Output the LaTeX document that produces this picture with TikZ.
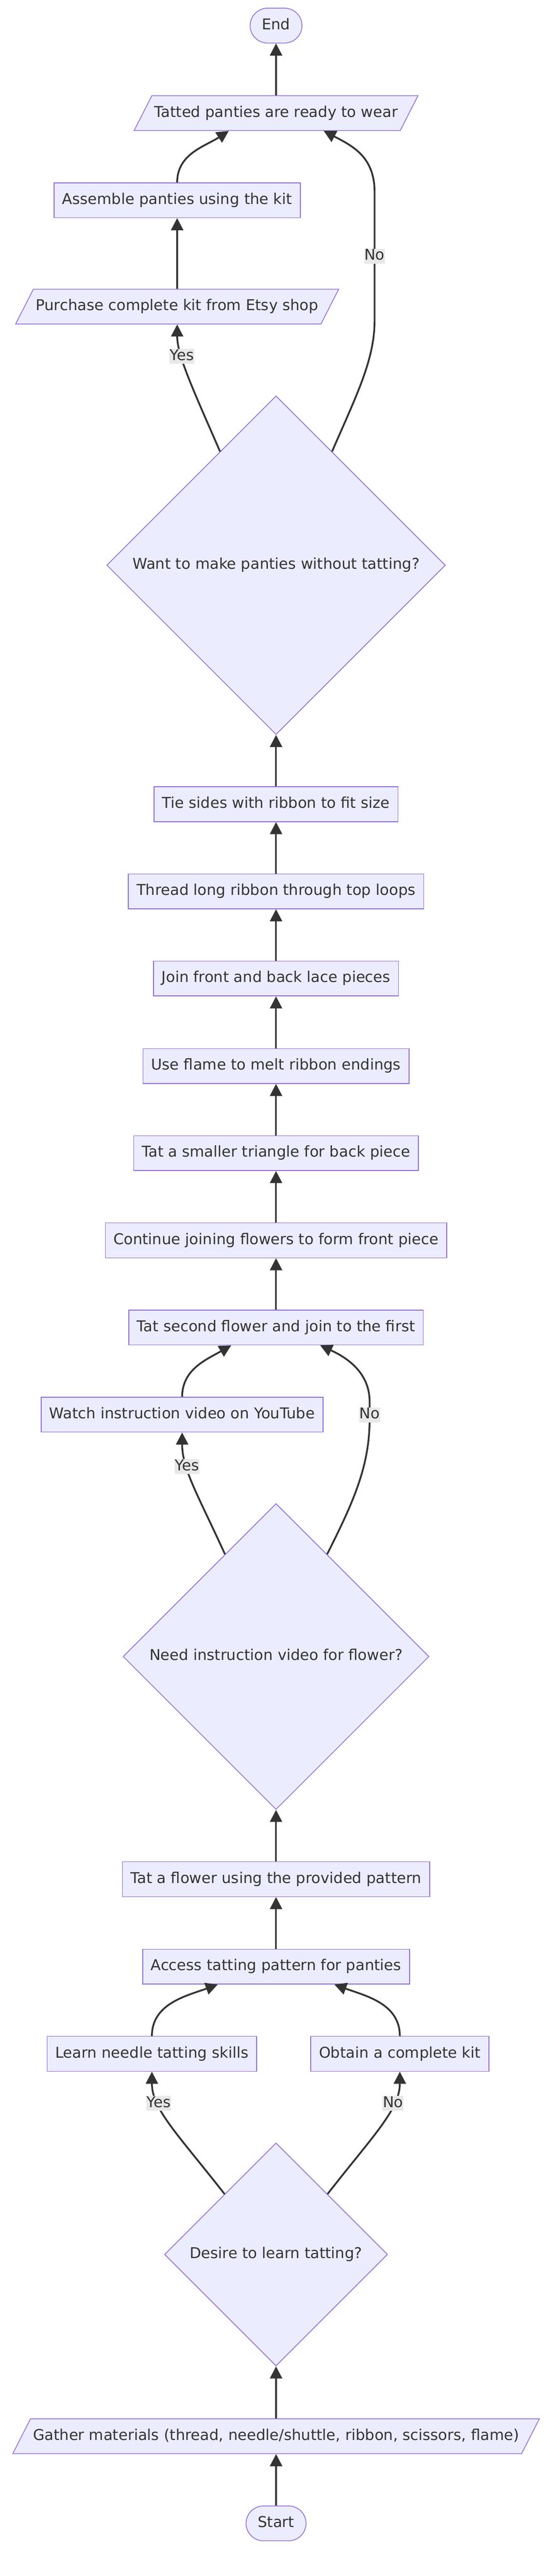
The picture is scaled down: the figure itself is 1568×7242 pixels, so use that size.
\documentclass[tikz,border=0pt]{standalone}
\usepackage{fontspec}
\setmainfont{DejaVu Sans}
\usepackage{tikz}
\usetikzlibrary{shapes.geometric}
\usetikzlibrary{arrows.meta}
\usetikzlibrary{calc}
\usepackage{xcolor}
\definecolor{nodefill}{HTML}{ECECFF}
\definecolor{nodeline}{HTML}{9370DB}
\definecolor{edgecol}{HTML}{333333}
\definecolor{textcol}{HTML}{333333}
\definecolor{labelfill}{HTML}{E8E8E8}

\begin{document}
\begin{tikzpicture}[x=0.5pt,y=-0.5pt,
		every node/.style={font=\fontsize{21pt}{25pt}\selectfont,text=textcol,text height=15.5pt,text depth=4.5pt},
		box/.style={draw=nodeline,fill=nodefill,line width=1.1pt,minimum height=49pt,inner xsep=11.5pt},
		term/.style={box,rounded corners=24.5pt,inner xsep=16.5pt},
		io/.style={draw=nodeline,fill=nodefill,line width=1.1pt,trapezium,trapezium left angle=63,trapezium right angle=117,inner xsep=3.5pt,inner ysep=14.5pt},
		decision/.style={draw=nodeline,fill=nodefill,line width=1.1pt,diamond,aspect=1,inner sep=0pt},
		flow/.style={draw=edgecol,line width=2.5pt,-{Triangle[length=17pt,width=17pt]}},
		answer/.style={fill=labelfill,inner sep=0.5pt}]
		\useasboundingbox (0,0) rectangle (1568,7242);

		\node[term](finish) at (776,72){End};
		\node[io](ready) at (776,318){Tatted panties are ready to wear};
		\node[box](assemble) at (498,563){Assemble panties using the kit};
		\node[io](purchase) at (498,862){Purchase complete kit from Etsy shop};
		\node[decision,minimum size=476pt](notatting) at (776,1589){Want to make panties without tatting?};

		\node[box](tie) at (776,2261){Tie sides with ribbon to fit size};
		\node[box](thread) at (776,2506){Thread long ribbon through top loops};
		\node[box](joinpieces) at (776,2751){Join front and back lace pieces};
		\node[box](flame) at (776,2997){Use flame to melt ribbon endings};
		\node[box](backtri) at (776,3242){Tat a smaller triangle for back piece};
		\node[box](frontpiece) at (776,3487){Continue joining flowers to form front piece};
		\node[box](second) at (776,3732){Tat second flower and join to the first};

		\node[box](watch) at (512,3977){Watch instruction video on YouTube};
		\node[decision,minimum size=430pt](needvideo) at (776,4657){Need instruction video for flower?};
		\node[box](flower) at (776,5283){Tat a flower using the provided pattern};
		\node[box](access) at (776,5529){Access tatting pattern for panties};

		\node[box](learn) at (427,5774){Learn needle tatting skills};
		\node[box](obtain) at (1124,5774){Obtain a complete kit};
		\node[decision,minimum size=313.5pt](desire) at (776,6338){Desire to learn tatting?};
		\node[io](gather) at (776,6849){Gather materials (thread, needle/shuttle, ribbon, scissors, flame)};
		\node[term](start) at (776,7094){Start};

		\draw[flow] (start) -- (gather);
		\draw[flow] (gather) -- (desire);
		\draw[flow] ($(desire.north)!0.46!(desire.west)$) .. controls (500,6000) and (427,5930) .. (learn.south) node[answer,pos=0.7]{Yes};
		\draw[flow] ($(desire.north)!0.46!(desire.east)$) .. controls (1052,6000) and (1124,5930) .. (obtain.south) node[answer,pos=0.7]{No};
		\draw[flow] (learn.north) to[out=90,in=-160] ($(access.south)+(-164,0)$);
		\draw[flow] (obtain.north) to[out=90,in=-20] ($(access.south)+(164,0)$);
		\draw[flow] (access) -- (flower);
		\draw[flow] (flower) -- (needvideo);

		\draw[flow] ($(needvideo.north)!0.333!(needvideo.west)$) .. controls (555,4200) and (512,4130) .. (watch.south) node[answer,pos=0.67]{Yes};
		\draw[flow] ($(needvideo.north)!0.333!(needvideo.east)$) .. controls (995,4220) and (1039,4120) .. (1039,3990) -- (1039,3940) node[answer,pos=0.25]{No} .. controls (1039,3850) and (960,3810) .. ($(second.south)+(124,0)$);
		\draw[flow] (watch.north) to[out=90,in=-150] ($(second.south)+(-126,0)$);

		\draw[flow] (second) -- (frontpiece);
		\draw[flow] (frontpiece) -- (backtri);
		\draw[flow] (backtri) -- (flame);
		\draw[flow] (flame) -- (joinpieces);
		\draw[flow] (joinpieces) -- (thread);
		\draw[flow] (thread) -- (tie);
		\draw[flow] (tie) -- (notatting);

		\draw[flow] ($(notatting.north)!0.33!(notatting.west)$) .. controls (545,1100) and (498,1000) .. (purchase.south) node[answer,pos=0.68]{Yes};
		\draw[flow] ($(notatting.north)!0.33!(notatting.east)$) .. controls (1005,1105) and (1053,1010) .. (1053,900) -- (1053,540) node[answer,midway]{No} .. controls (1053,440) and (990,410) .. ($(ready.south)+(134,0)$);
		\draw[flow] (purchase) -- (assemble);
		\draw[flow] (assemble.north) to[out=90,in=-147] ($(ready.south)+(-133,0)$);
		\draw[flow] (ready) -- (finish);
	\end{tikzpicture}
\end{document}
